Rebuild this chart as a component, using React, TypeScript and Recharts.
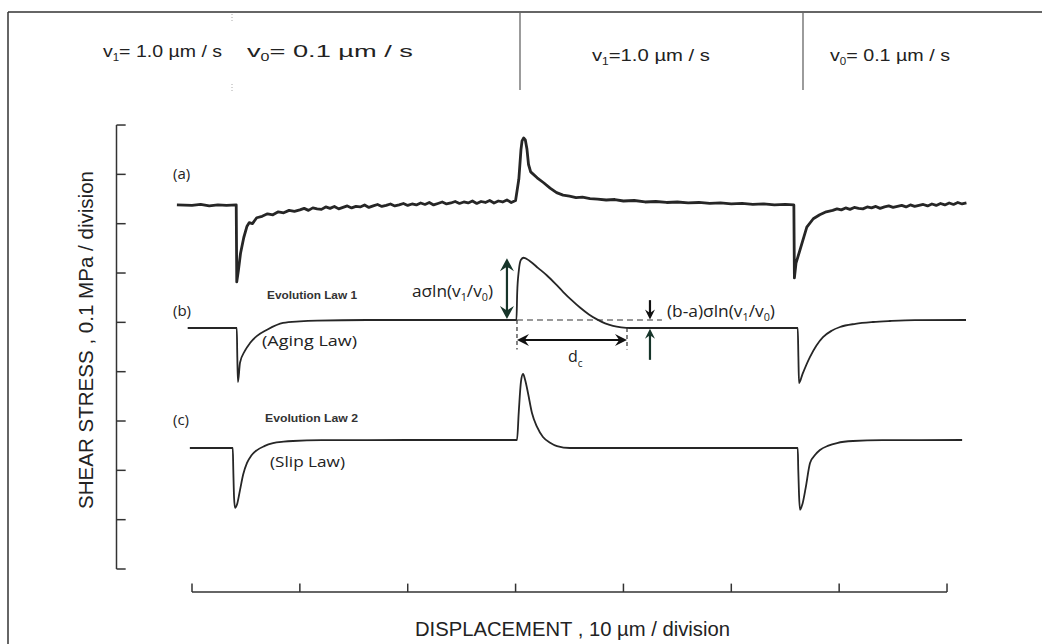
import React from 'react';
import { LineChart, Line, XAxis, YAxis, ReferenceLine } from 'recharts';

// x in divisions (10 µm / division), y in divisions (0.1 MPa / division)
const curveA: [number, number][] = [
  [-0.14, 7.38], [0.0, 7.37], [0.08, 7.39], [0.16, 7.36], [0.24, 7.38], [0.32, 7.37], [0.41, 7.38],
  [0.415, 5.82], [0.43, 6.05], [0.45, 6.4], [0.48, 6.72], [0.51, 6.95], [0.53, 7.02], [0.56, 7.0],
  [0.6, 7.12], [0.65, 7.15], [0.7, 7.2], [0.75, 7.18], [0.8, 7.24], [0.85, 7.22], [0.9, 7.27],
  [0.95, 7.25], [1.0, 7.28], [1.04, 7.31], [1.08, 7.27], [1.12, 7.32], [1.16, 7.3], [1.2, 7.29],
  [1.24, 7.34], [1.28, 7.31], [1.32, 7.35], [1.36, 7.3], [1.4, 7.33], [1.44, 7.36], [1.48, 7.32],
  [1.52, 7.35], [1.56, 7.34], [1.6, 7.38], [1.64, 7.33], [1.68, 7.36], [1.72, 7.39], [1.76, 7.35],
  [1.8, 7.37], [1.84, 7.4], [1.88, 7.36], [1.92, 7.38], [1.96, 7.41], [2.0, 7.37], [2.04, 7.4],
  [2.08, 7.38], [2.12, 7.42], [2.16, 7.39], [2.2, 7.43], [2.24, 7.38], [2.28, 7.41], [2.32, 7.44],
  [2.36, 7.4], [2.4, 7.42], [2.44, 7.45], [2.48, 7.41], [2.52, 7.44], [2.56, 7.42], [2.6, 7.46],
  [2.64, 7.41], [2.68, 7.45], [2.72, 7.43], [2.76, 7.47], [2.8, 7.42], [2.84, 7.46], [2.88, 7.44],
  [2.92, 7.48], [2.96, 7.43], [3.0, 7.47],
  [3.03, 7.9], [3.05, 8.5], [3.06, 8.68], [3.075, 8.74], [3.09, 8.7], [3.105, 8.52], [3.12, 8.2],
  [3.14, 8.05], [3.2, 7.93], [3.26, 7.83], [3.32, 7.72], [3.38, 7.63], [3.44, 7.58], [3.5, 7.56],
  [3.56, 7.53], [3.62, 7.54], [3.69, 7.51], [3.76, 7.5], [3.84, 7.48], [3.92, 7.49], [4.0, 7.46],
  [4.1, 7.47], [4.2, 7.44], [4.3, 7.45], [4.4, 7.43], [4.5, 7.44], [4.6, 7.42], [4.7, 7.43],
  [4.8, 7.41], [4.9, 7.42], [5.0, 7.4], [5.1, 7.41], [5.2, 7.39], [5.3, 7.4], [5.4, 7.38],
  [5.5, 7.39], [5.58, 7.38],
  [5.585, 5.9], [5.6, 6.2], [5.637, 6.47], [5.7, 6.93], [5.76, 7.1], [5.82, 7.18], [5.88, 7.24],
  [5.94, 7.27], [5.98, 7.3], [6.02, 7.28], [6.06, 7.32], [6.1, 7.29], [6.14, 7.33], [6.18, 7.31],
  [6.22, 7.3], [6.26, 7.34], [6.3, 7.32], [6.34, 7.35], [6.38, 7.31], [6.42, 7.34], [6.46, 7.36],
  [6.5, 7.33], [6.54, 7.35], [6.58, 7.37], [6.62, 7.34], [6.66, 7.38], [6.7, 7.35], [6.74, 7.37],
  [6.78, 7.39], [6.82, 7.36], [6.86, 7.4], [6.9, 7.37], [6.94, 7.41], [6.98, 7.38], [7.02, 7.42],
  [7.06, 7.39], [7.1, 7.43], [7.14, 7.4], [7.18, 7.42],
];

const curveB: [number, number][] = [
  [-0.04, 4.885], [0.415, 4.885], [0.42, 4.3], [0.426, 3.79], [0.445, 4.18], [0.49, 4.42],
  [0.538, 4.58], [0.6, 4.72], [0.695, 4.85], [0.844, 4.99], [1.0, 5.02], [1.159, 5.035],
  [1.622, 5.048], [3.008, 5.048], [3.015, 5.6], [3.03, 6.05], [3.05, 6.27], [3.075, 6.31],
  [3.134, 6.24], [3.21, 6.1], [3.291, 5.95], [3.37, 5.78], [3.44, 5.62], [3.52, 5.45],
  [3.597, 5.3], [3.68, 5.16], [3.755, 5.06], [3.83, 4.98], [3.903, 4.93], [3.98, 4.9],
  [4.061, 4.885], [5.616, 4.885], [5.622, 4.3], [5.628, 3.77], [5.66, 3.95], [5.73, 4.3],
  [5.85, 4.7], [5.93, 4.83], [6.008, 4.906], [6.15, 4.97], [6.314, 5.007], [6.471, 5.027],
  [6.7, 5.045], [7.176, 5.048],
];

const curveC: [number, number][] = [
  [-0.02, 2.453], [0.378, 2.453], [0.383, 2.0], [0.39, 1.45], [0.399, 1.24], [0.42, 1.33],
  [0.445, 1.6], [0.475, 1.92], [0.51, 2.15], [0.55, 2.3], [0.603, 2.41], [0.67, 2.49],
  [0.751, 2.55], [0.85, 2.58], [0.936, 2.595], [1.2, 2.612], [2.0, 2.615], [3.013, 2.615],
  [3.03, 3.2], [3.05, 3.8], [3.069, 3.953], [3.09, 3.82], [3.115, 3.568], [3.152, 3.162],
  [3.199, 2.879], [3.254, 2.676], [3.32, 2.56], [3.384, 2.493], [3.505, 2.453], [4.5, 2.453],
  [5.616, 2.453], [5.621, 2.0], [5.628, 1.5], [5.637, 1.2], [5.66, 1.32], [5.69, 1.65],
  [5.73, 2.149], [5.78, 2.32], [5.822, 2.412], [5.9, 2.5], [5.98, 2.554], [6.128, 2.595],
  [6.4, 2.612], [7.14, 2.615],
];

const yTicks = [0, 1, 2, 3, 4, 5, 6, 7, 8, 9];
const xTicks = [0, 1, 2, 3, 4, 5, 6, 7];
const yAxisAt = -0.7;
const xAxisAt = -0.466;

// annotation geometry (data units)
const riseArrow = { x: 2.92, from: 5.07, to: 6.3 };
const steadyDash = { y: 5.048, from: 3.013, to: 4.357 };
const dcSpan = { from: 3.013, to: 4.033, y: 4.642, bottom: 4.45 };
const dropArrows = { x: 4.246, topFrom: 5.45, topTo: 5.06, botFrom: 4.24, botTo: 4.87 };

const W = 1042;
const H = 644;
const X_DOMAIN: [number, number] = [-0.8, 7.5];
const Y_DOMAIN: [number, number] = [-0.6, 9.4];
// pixel anchors of the scales
const X0 = 192, XDIV = 107.86, Y0 = 569, YDIV = 49.33;
const margin = {
  left: X0 + X_DOMAIN[0] * XDIV,
  right: W - (X0 + X_DOMAIN[1] * XDIV),
  top: Y0 - Y_DOMAIN[1] * YDIV,
  bottom: H - (Y0 - Y_DOMAIN[0] * YDIV),
};

const toPts = (arr: [number, number][]) => arr.map(([x, y]) => ({ x, y }));

const INK = '#262626';
const GREEN = '#17352a';

function arrowShape(color: string, startHead: boolean, endHead: boolean, head = 11, half = 6) {
  return (p: any) => {
    const { x1, y1, x2, y2 } = p;
    const dx = x2 - x1, dy = y2 - y1;
    const len = Math.hypot(dx, dy) || 1;
    const ux = dx / len, uy = dy / len;
    const nx = -uy, ny = ux;
    const headPts = (tx: number, ty: number, ex: number, ey: number) => {
      const bx = tx - ex * head, by = ty - ey * head;
      const mx = tx - ex * head * 0.65, my = ty - ey * head * 0.65;
      return `${tx},${ty} ${bx + nx * half},${by + ny * half} ${mx},${my} ${bx - nx * half},${by - ny * half}`;
    };
    const sx = startHead ? x1 + ux * head * 0.6 : x1;
    const sy = startHead ? y1 + uy * head * 0.6 : y1;
    const ex = endHead ? x2 - ux * head * 0.6 : x2;
    const ey = endHead ? y2 - uy * head * 0.6 : y2;
    return (
      <g>
        <line x1={sx} y1={sy} x2={ex} y2={ey} stroke={color} strokeWidth={2.2} />
        {startHead && <polygon points={headPts(x1, y1, -ux, -uy)} fill={color} />}
        {endHead && <polygon points={headPts(x2, y2, ux, uy)} fill={color} />}
      </g>
    );
  };
}

const seg = (xa: number, ya: number, xb: number, yb: number) => [
  { x: xa, y: ya },
  { x: xb, y: yb },
];

export default function App() {
  const sans = 'Liberation Sans, Arial, Helvetica, sans-serif';
  const myriad = 'Open Sans, Noto Sans, sans-serif';
  return (
    <div style={{ position: 'absolute', left: 0, top: 0, width: W, height: H, background: '#fff' }}>
      <LineChart width={W} height={H} margin={margin}>
        <XAxis type="number" dataKey="x" domain={X_DOMAIN} hide allowDataOverflow />
        <YAxis type="number" dataKey="y" domain={Y_DOMAIN} hide allowDataOverflow />

        {/* axes */}
        <ReferenceLine segment={seg(yAxisAt, 0, yAxisAt, 9)} stroke="#333" strokeWidth={1.5} ifOverflow="visible" />
        {yTicks.map((t) => (
          <ReferenceLine key={`yt${t}`} segment={seg(yAxisAt, t, yAxisAt + 0.085, t)} stroke="#333" strokeWidth={1.5} ifOverflow="visible" />
        ))}
        <ReferenceLine segment={seg(0, xAxisAt, 7, xAxisAt)} stroke="#333" strokeWidth={1.5} ifOverflow="visible" />
        {xTicks.map((t) => (
          <ReferenceLine key={`xt${t}`} segment={seg(t, xAxisAt, t, xAxisAt + 0.17)} stroke="#333" strokeWidth={1.5} ifOverflow="visible" />
        ))}

        {/* annotation guides */}
        <ReferenceLine segment={seg(steadyDash.from, steadyDash.y, steadyDash.to, steadyDash.y)} stroke="#333" strokeWidth={1.2} strokeDasharray="6 4" ifOverflow="visible" />
        <ReferenceLine segment={seg(dcSpan.from, steadyDash.y, dcSpan.from, dcSpan.bottom)} stroke="#333" strokeWidth={1.2} strokeDasharray="4 3" ifOverflow="visible" />
        <ReferenceLine segment={seg(dcSpan.to, 4.885, dcSpan.to, dcSpan.bottom)} stroke="#333" strokeWidth={1.2} strokeDasharray="4 3" ifOverflow="visible" />
        <ReferenceLine segment={seg(dcSpan.from, dcSpan.y, dcSpan.to, dcSpan.y)} stroke={INK} ifOverflow="visible" shape={arrowShape('#111', true, true, 12, 6)} />
        <ReferenceLine segment={seg(riseArrow.x, riseArrow.from, riseArrow.x, riseArrow.to)} stroke={GREEN} ifOverflow="visible" shape={arrowShape(GREEN, true, true, 13, 7)} />
        <ReferenceLine segment={seg(dropArrows.x, dropArrows.topFrom, dropArrows.x, dropArrows.topTo)} stroke={GREEN} ifOverflow="visible" shape={arrowShape('#111', false, true, 10, 5)} />
        <ReferenceLine segment={seg(dropArrows.x, dropArrows.botFrom, dropArrows.x, dropArrows.botTo)} stroke={GREEN} ifOverflow="visible" shape={arrowShape(GREEN, false, true, 10, 5)} />

        <Line data={toPts(curveA)} dataKey="y" type="linear" stroke={INK} strokeWidth={2.8} dot={false} isAnimationActive={false} strokeLinejoin="round" />
        <Line data={toPts(curveB)} dataKey="y" type="monotone" stroke={INK} strokeWidth={1.8} dot={false} isAnimationActive={false} />
        <Line data={toPts(curveC)} dataKey="y" type="monotone" stroke={INK} strokeWidth={1.8} dot={false} isAnimationActive={false} />
      </LineChart>

      <svg width={W} height={H} style={{ position: 'absolute', left: 0, top: 0, pointerEvents: 'none' }}>
        {/* frame and velocity separators */}
        <line x1={8} y1={12} x2={W} y2={12} stroke="#333" strokeWidth={1.5} />
        <line x1={8} y1={12} x2={8} y2={H} stroke="#333" strokeWidth={1.5} />
        <line x1={520} y1={12} x2={520} y2={90} stroke="#666" strokeWidth={1.3} />
        <line x1={803} y1={12} x2={803} y2={90} stroke="#666" strokeWidth={1.3} />
        <line x1={232} y1={14} x2={232} y2={21} stroke="#aaa" strokeWidth={1} strokeDasharray="1 2" />
        <line x1={232} y1={84} x2={232} y2={91} stroke="#aaa" strokeWidth={1} strokeDasharray="1 2" />

        <g fontFamily={sans} fill="#222">
          <text x={103} y={57} fontSize={17} textLength={119} lengthAdjust="spacingAndGlyphs">
            v<tspan fontSize={10} dy={4}>1</tspan><tspan dy={-4}>= 1.0 µm / s</tspan>
          </text>
          <text x={247} y={57} fontSize={17} textLength={166} lengthAdjust="spacingAndGlyphs">
            v<tspan fontSize={10} dy={4}>0</tspan><tspan dy={-4}>= 0.1 µm / s</tspan>
          </text>
          <text x={592} y={61} fontSize={17} textLength={118} lengthAdjust="spacingAndGlyphs">
            v<tspan fontSize={10} dy={4}>1</tspan><tspan dy={-4}>=1.0 µm / s</tspan>
          </text>
          <text x={830} y={61} fontSize={17} textLength={120} lengthAdjust="spacingAndGlyphs">
            v<tspan fontSize={10} dy={4}>0</tspan><tspan dy={-4}>= 0.1 µm / s</tspan>
          </text>

          <text x={86} y={340} fontSize={20} textAnchor="middle" dominantBaseline="central" transform="rotate(-90 86 340)" textLength={338} lengthAdjust="spacingAndGlyphs">
            SHEAR STRESS , 0.1 MPa / division
          </text>
          <text x={415} y={636} fontSize={20} textLength={315} lengthAdjust="spacingAndGlyphs">
            DISPLACEMENT ,  10 µm / division
          </text>
        </g>

        <g fontFamily={myriad} fill="#222">
          <text x={173} y={179} fontSize={15}>(a)</text>
          <text x={173} y={316} fontSize={15}>(b)</text>
          <text x={173} y={425} fontSize={15}>(c)</text>
          <text x={262} y={346} fontSize={15} textLength={95} lengthAdjust="spacingAndGlyphs">(Aging Law)</text>
          <text x={270} y={467} fontSize={15} textLength={75} lengthAdjust="spacingAndGlyphs">(Slip Law)</text>
          <text x={412} y={297} fontSize={16} textLength={81} lengthAdjust="spacingAndGlyphs">
            aσln(v<tspan fontSize={10} dy={4}>1</tspan><tspan dy={-4}>/v</tspan><tspan fontSize={10} dy={4}>0</tspan><tspan dy={-4}>)</tspan>
          </text>
          <text x={667} y={317} fontSize={16} textLength={108} lengthAdjust="spacingAndGlyphs">
            (b-a)σln(v<tspan fontSize={10} dy={4}>1</tspan><tspan dy={-4}>/v</tspan><tspan fontSize={10} dy={4}>0</tspan><tspan dy={-4}>)</tspan>
          </text>
          <text x={568} y={362} fontSize={16}>
            d<tspan fontSize={10} dy={5}>c</tspan>
          </text>
        </g>

        <g fontFamily="Liberation Sans Narrow, Liberation Sans, Arial, sans-serif" fontWeight="bold" fill="#333">
          <text x={267} y={299} fontSize={11} textLength={90} lengthAdjust="spacingAndGlyphs">Evolution Law 1</text>
          <text x={265} y={422} fontSize={11} textLength={93} lengthAdjust="spacingAndGlyphs">Evolution Law 2</text>
        </g>
      </svg>
    </div>
  );
}
